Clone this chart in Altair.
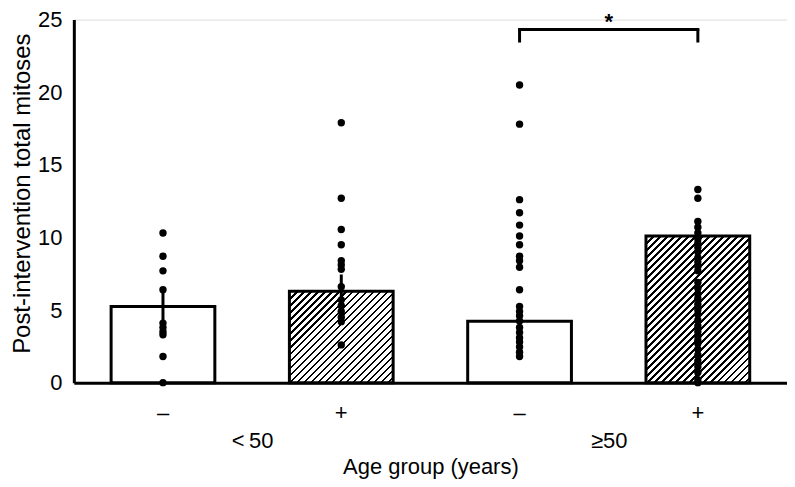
import altair as alt
import pandas as pd

# ---------------- data ----------------
age_groups = ["<\u200950", "\u226550"]
bar_groups = ["<\u200950", "<\u200950", "\u226550", "\u226550"]
bar_signs = ["\u2013", "+", "\u2013", "+"]
bar_means = [5.24, 6.3, 4.23, 10.1]
bar_sems = [1.14, 1.15, 0.6, 0.95]
bar_hatched = [False, True, False, True]

dots_lt50_minus = [10.3, 8.7, 7.7, 6.4, 4.1, 3.8, 3.5, 3.3, 1.8, 0.0]
dots_lt50_plus = [17.9, 12.7, 10.55, 9.5, 8.4, 8.1, 7.8, 6.6, 5.7, 5.3, 4.9, 4.5, 4.2, 2.6]
dots_ge50_minus = [20.5, 17.8, 12.6, 11.7, 10.85, 10.1, 9.5, 8.7, 8.4, 7.95, 6.4,
                   5.25, 4.9, 4.6, 4.25, 3.8, 3.45, 3.1, 2.8, 2.45, 2.1, 1.8]
dots_ge50_plus = [13.3, 12.7, 11.1, 10.7, 10.3, 9.9, 9.6, 9.3, 9.0, 8.6, 8.3, 8.0, 7.7,
                  6.9, 6.5, 6.1, 5.8, 5.4, 5.0, 4.7, 4.3, 3.9, 3.5, 3.2, 2.9,
                  2.7, 2.3, 1.9, 1.5, 1.1, 0.7, 0.2, 0.0]

sig_pair = [2, 3]          # bars compared
sig_level = 24.31          # bracket height (y units)
sig_drop = 23.42           # bracket tick ends
star_level = 24.83
star_text = "*"

y_ticks = [0, 5, 10, 15, 20, 25]

# ---------------- layout / style ----------------
PLOT_W, PLOT_H = 715, 364
Y_MAX = 25
BAR_W = 104
FONT = "Liberation Sans"
FS = 22

keys = [f"{g}|{s}" for g, s in zip(bar_groups, bar_signs)]

bars = pd.DataFrame({
    "idx": list(range(4)),
    "key": keys,
    "mean": bar_means,
    "lo": [m - s for m, s in zip(bar_means, bar_sems)],
    "hi": [m + s for m, s in zip(bar_means, bar_sems)],
})

dot_lists = [dots_lt50_minus, dots_lt50_plus, dots_ge50_minus, dots_ge50_plus]
dots = pd.DataFrame([{"key": k, "mean": v} for k, lst in zip(keys, dot_lists) for v in lst])

bracket_h = pd.DataFrame({"key": [keys[sig_pair[0]]], "key2": [keys[sig_pair[1]]],
                          "mean": [sig_level]})
bracket_v = pd.DataFrame({"key": [keys[i] for i in sig_pair],
                          "mean": [sig_drop, sig_drop], "hi": [sig_level, sig_level]})
star = pd.DataFrame({"group": [age_groups[1]], "mean": [star_level], "t": [star_text]})


def hatch(h_px, w_px=BAR_W, period=7.0, line=2.6):
    total = w_px + h_px
    c = total / (w_px ** 2 + h_px ** 2)
    stops = []
    k = 0
    while k * period < total:
        a = k * period / total
        b = min((k * period + line) / total, 1.0)
        e = min((k + 1) * period / total, 1.0)
        stops += [{"offset": a, "color": "black"}, {"offset": b, "color": "black"},
                  {"offset": b, "color": "white"}, {"offset": e, "color": "white"}]
        k += 1
    return alt.LinearGradient(gradient="linear", x1=0, y1=0, x2=c * w_px, y2=c * h_px,
                              stops=stops)


y_axis = alt.Axis(values=y_ticks, title="Post-intervention total mitoses", ticks=False,
                  grid=False, domainColor="black", domainWidth=3, labelPadding=12,
                  labelFontSize=FS, labelColor="black", titleFontSize=24,
                  titleFontWeight="normal", titleColor="black", titlePadding=3,
                  titleY=174, labelFont=FONT, titleFont=FONT)
y_scale = alt.Scale(domain=[0, Y_MAX], nice=False, zero=True)

x_a = alt.X("key:N", sort=keys,
            scale=alt.Scale(domain=keys, paddingInner=0, paddingOuter=0),
            axis=alt.Axis(title=None, ticks=False, grid=False, domainColor="black",
                          domainWidth=3, labelAngle=0, labelPadding=20, labelFontSize=FS,
                          labelColor="black", labelFont=FONT,
                          labelExpr="split(datum.label, '|')[1]"))

layers = []
for i in range(4):
    h_px = bar_means[i] / Y_MAX * PLOT_H
    fill = hatch(h_px) if bar_hatched[i] else "white"
    layers.append(
        alt.Chart(bars).transform_filter(f"datum.idx == {i}")
        .mark_bar(size=BAR_W, fill=fill, stroke="black", strokeWidth=3)
        .encode(x=x_a, y=alt.Y("mean:Q", scale=y_scale, axis=y_axis))
    )

err = alt.Chart(bars).mark_rule(color="black", strokeWidth=3).encode(
    x=x_a, y=alt.Y("lo:Q", scale=y_scale, axis=y_axis), y2="hi:Q")

pts = alt.Chart(dots).mark_circle(size=55, color="black", opacity=1).encode(
    x=x_a, y=alt.Y("mean:Q", scale=y_scale, axis=y_axis))

br_h = alt.Chart(bracket_h).mark_rule(color="black", strokeWidth=3, strokeCap="square").encode(
    x=x_a, x2="key2:N", y=alt.Y("mean:Q", scale=y_scale, axis=y_axis))
br_v = alt.Chart(bracket_v).mark_rule(color="black", strokeWidth=3).encode(
    x=x_a, y=alt.Y("mean:Q", scale=y_scale, axis=y_axis), y2="hi:Q")

layer_a = alt.layer(*layers, err, pts, br_h, br_v)

layer_b = alt.Chart(star).mark_text(fontSize=22, fontWeight="bold", font=FONT,
                                    baseline="middle", color="black").encode(
    x=alt.X("group:N", sort=age_groups,
            scale=alt.Scale(domain=age_groups, paddingInner=0, paddingOuter=0),
            axis=alt.Axis(orient="bottom", title="Age group (years)", domain=False,
                          ticks=False, grid=False, labelAngle=0, labelPadding=48,
                          labelFontSize=FS, labelColor="black", labelFont=FONT,
                          titleFontSize=FS, titleFontWeight="normal", titleColor="black",
                          titleFont=FONT, titlePadding=5)),
    y=alt.Y("mean:Q", scale=y_scale, axis=y_axis),
    text="t:N",
)

chart = (
    alt.layer(layer_a, layer_b)
    .resolve_scale(x="independent")
    .properties(width=PLOT_W, height=PLOT_H,
                autosize=alt.AutoSizeParams(type="none"),
                padding={"left": 66, "top": 11, "right": 0, "bottom": 102})
    .configure_view(stroke=None)
    .configure(background="white")
)

chart.save("out.html", embed_options={"renderer": "svg", "actions": False})
